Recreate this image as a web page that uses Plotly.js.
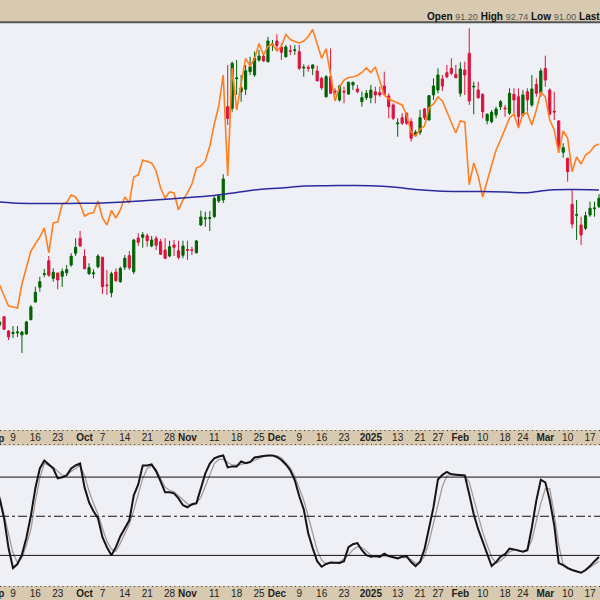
<!DOCTYPE html>
<html><head><meta charset="utf-8">
<script src="https://cdn.plot.ly/plotly-3.0.1.min.js"></script>
<style>html,body{margin:0;padding:0;background:#d8cab0}#chart{width:600px;height:600px}</style>
</head><body><div id="chart"></div>
<script>
// trading-day index: 0 = 9 Sep 2024; first visible candle is index -3
const firstDay = -3;
const open = [76.38,77.41,75.63,75.31,75.38,75.13,75.25,77.06,79.25,81.09,82.69,84.41,82.21,82.88,82.46,82.91,83.88,85.34,87.21,84.96,82.79,82.78,83.66,84.84,81.38,80.41,83.0,81.79,83.59,85.04,83.04,87.25,87.34,87.54,86.25,87.21,86.79,85.75,85.0,86.38,85.66,85.09,85.81,85.78,85.41,
88.88,89.66,89.69,89.94,91.88,92.0,
103.66,103.46,107.15,105.54,105.84,108.04,107.63,109.5,110.0,109.29,111.38,111.88,111.13,109.91,110.66,110.69,110.54,108.5,108.59,108.46,108.13,107.21,104.91,107.41,105.59,104.5,105.59,105.25,106.38,105.88,104.29,104.79,104.79,105.54,105.41,106.25,105.0,103.88,101.54,102.29,102.84,101.79,100.04,100.46,103.38,102.0,105.13,105.75,107.13,107.91,108.46,107.71,105.34,108.25,110.34,106.13,105.75,105.21,101.91,101.79,102.63,103.66,103.5,102.84,105.21,104.91,102.63,105.54,103.88,106.46,105.34,108.46,105.75,103.09,101.88,97.96,97.21,91.46,90.09,88.88,88.46,90.13,90.91,91.20];
const high = [77.13,77.5,75.75,76.25,76.25,75.63,76.88,78.88,81.16,82.41,83.38,85.0,83.46,82.88,83.44,83.88,85.34,87.21,88.13,85.84,84.09,83.34,85.21,84.88,83.25,83.04,83.46,83.66,85.13,85.63,87.13,87.84,88.0,87.84,87.5,87.5,87.13,87.21,86.91,87.0,86.91,86.91,86.91,86.16,87.0,
90.66,90.54,90.63,92.44,92.75,95.21,
108.88,109.29,109.5,107.63,108.88,109.91,110.54,110.75,110.34,112.41,112.0,112.71,111.59,111.38,111.38,111.38,111.38,108.96,108.88,108.96,108.79,107.41,107.63,110.96,105.96,106.38,106.16,106.79,106.79,106.38,105.54,105.75,106.38,106.16,106.16,108.04,105.34,104.09,102.21,102.84,102.96,102.21,100.75,103.25,103.5,105.13,107.21,108.46,107.63,108.88,109.71,108.88,109.21,109.29,113.46,106.79,106.79,105.34,102.84,103.25,103.66,104.5,103.88,105.96,105.96,105.96,105.75,105.96,107.63,107.21,108.46,110.04,105.96,105.54,102.0,99.09,97.29,93.25,92.0,89.91,90.54,91.79,91.79,92.74];
const low = [76.13,75.75,74.5,74.75,74.88,72.88,75.13,76.94,79.16,80.54,82.34,82.41,81.79,80.84,81.13,82.5,83.66,85.0,86.16,83.34,82.63,82.21,83.46,80.25,80.13,79.84,81.79,81.66,83.25,83.25,82.75,86.25,86.04,86.16,86.09,85.75,85.13,84.63,84.84,85.0,84.59,84.71,84.5,85.13,85.31,
88.75,88.66,88.13,89.75,91.63,91.63,
101.38,103.04,105.13,104.29,105.13,107.63,107.41,109.29,109.29,109.19,110.63,110.75,109.5,109.79,110.13,110.13,108.25,107.41,108.04,107.63,106.88,105.75,104.79,105.25,105.13,104.29,104.09,105.13,105.75,105.34,103.66,104.5,104.09,104.09,104.91,105.13,102.21,102.0,99.91,101.38,101.38,99.29,99.91,100.13,102.0,101.94,104.5,105.34,105.63,107.21,107.63,107.21,104.91,105.13,103.88,102.71,104.63,102.21,101.46,101.59,102.21,103.25,102.41,102.63,102.84,101.38,102.41,103.04,103.66,104.91,104.91,106.16,102.63,102.0,98.25,97.29,94.29,88.46,87.0,86.38,88.25,89.91,89.91,91.00];
const close = [76.75,75.84,74.88,75.44,75.5,75.5,76.75,78.63,80.46,81.79,82.78,82.59,82.96,82.0,83.06,83.29,84.96,86.09,86.25,83.41,83.54,82.88,85.0,81.16,81.29,82.79,81.91,83.46,84.71,83.54,87.0,86.71,87.66,86.91,87.0,86.34,85.21,84.71,86.16,86.09,84.84,86.25,85.71,85.69,86.88,
89.88,89.75,89.78,92.21,92.5,94.63,
102.21,109.09,107.25,106.04,108.16,108.66,109.71,110.0,109.38,111.88,111.5,111.29,110.46,111.13,110.59,110.78,108.46,108.59,108.46,108.88,106.88,106.04,107.41,105.34,105.5,106.25,105.5,106.71,106.71,105.54,104.79,105.34,105.75,105.13,105.13,105.21,103.66,102.21,101.63,101.59,101.59,99.71,100.46,102.29,102.29,105.04,106.25,107.63,106.25,107.41,107.84,107.29,108.38,107.63,104.38,106.21,104.79,103.04,102.71,102.96,103.38,104.29,103.41,105.34,104.5,102.41,105.13,104.5,105.88,105.34,108.13,107.0,102.71,103.0,98.46,98.54,95.54,89.0,90.16,87.63,90.04,90.96,91.0,92.21];
// overlay comparison line (orange)
const compare = [81.38,80.13,78.75,78.63,78.5,81.5,83.75,85.63,86.5,87.38,88.5,85.38,89.13,89.25,91.5,91.69,92.63,92.38,91.5,90.0,90.31,90.44,91.88,89.75,88.88,90.69,89.75,90.75,92.38,91.63,94.88,95.13,97.0,96.81,96.63,95.63,93.5,92.25,93.0,92.88,90.75,92.0,92.88,94.0,96.0,
96.25,96.88,98.75,101.5,103.75,107.63,95.0,108.5,103.25,106.63,109.69,108.75,109.63,111.56,110.13,111.19,111.5,110.63,111.25,112.69,112.06,111.81,111.63,111.88,112.41,113.31,111.38,109.71,110.88,107.75,104.38,106.13,107.0,107.31,107.38,107.56,107.94,108.5,107.94,108.63,107.0,105.13,104.63,104.38,104.13,103.88,102.63,100.5,100.0,100.88,101.25,103.5,104.0,104.88,104.38,103.0,101.75,100.38,101.88,101.75,93.88,96.63,95.0,92.38,94.38,96.38,98.25,99.5,101.0,102.25,102.75,101.0,102.75,102.88,101.38,103.25,105.5,104.88,102.0,100.75,97.88,100.63,99.75,95.54,97.38,96.5,97.63,98.0,98.75,99.0];
// moving average (blue), read at selected days
const maDay = [-3,0,5,10,15,20,25,30,35,40,45,50,55,60,65,70,75,80,85,90,95,100,105,110,115,120,125,131];
const maVal = [91.75,91.63,91.56,91.56,91.59,91.63,91.75,91.94,92.13,92.34,92.56,92.94,93.31,93.5,93.75,93.79,93.81,93.79,93.63,93.31,93.13,93.06,93.06,93.0,92.91,93.25,93.31,93.25];
// slow stochastic
const stochK = [63.7,48.5,25.6,10.3,13.4,20.6,33.6,50.4,71.4,86.6,92.7,89.7,86.6,79.0,79.8,81.3,86.6,88.9,90.4,72.1,60.7,53.8,48.5,34.0,26.3,20.2,26.3,34.7,40.8,46.9,66.0,74.4,88.9,88.9,89.7,84.4,76.7,68.3,68.3,67.5,63.7,58.4,56.9,59.2,59.9,
72.1,82.8,90.4,94.3,95.8,96.6,87.4,88.2,88.2,92.0,90.7,91.5,95.0,95.8,96.2,96.6,96.6,95.4,93.1,89.7,85.1,77.5,65.3,55.3,37.0,25.6,15.6,11.3,13.4,14.5,14.5,14.1,15.6,26.3,28.6,29.4,24.0,20.2,18.9,19.5,18.9,21.4,19.5,18.5,17.7,18.9,19.5,14.9,11.8,15.1,24.8,40.8,56.9,78.2,81.7,84.0,82.1,81.8,81.8,81.3,66.8,51.5,40.1,30.2,20.2,11.8,14.9,19.1,21.0,25.2,24.6,23.5,22.9,24.0,41.6,62.2,78.0,76.0,62.2,43.1,14.1,12.6,10.3,8.8,7.6,6.7,8.8,11.8,15.6,18.7];
const stochD = [66.0,51.5,35.4,21.8,14.5,18.0,27.9,40.0,61.5,79.4,90.4,88.9,87.4,84.4,81.3,81.3,84.4,86.6,88.9,81.3,69.1,59.9,51.5,40.8,30.9,24.8,23.3,29.4,37.0,43.9,54.6,67.5,79.0,86.6,88.6,85.9,79.0,72.1,69.9,68.7,65.7,62.2,59.5,58.4,59.9,
64.5,72.9,82.1,90.4,93.5,93.5,91.2,89.3,88.9,89.7,90.4,91.5,92.7,94.3,95.8,96.6,96.6,96.2,94.7,91.2,87.0,80.5,71.4,62.2,50.0,36.3,24.0,16.4,13.4,14.4,14.4,15.1,17.2,20.2,24.4,26.7,26.0,23.3,20.2,18.9,19.5,19.5,19.1,18.7,18.5,18.5,18.1,16.8,13.9,14.4,19.5,30.2,43.9,59.9,72.9,80.9,82.4,82.1,81.8,81.3,76.0,63.7,51.5,37.8,27.9,18.7,14.1,16.0,18.9,22.5,24.4,23.7,22.9,24.8,31.7,46.2,59.9,71.1,71.1,51.5,27.9,13.0,10.7,8.8,7.3,6.7,8.4,10.8,13.4,15.6];
// date axis ticks
const tickDay = [0,5,10,16,20,25,30,35,39,45,50,55,59,64,69,74,80,86,91,95,100,105,110,114,119,124,129];
const tickText = ['9','16','23','<b>Oct</b>','7','14','21','28','<b>Nov</b>','11','18','25','<b>Dec</b>','9','16','23','<b>2025</b>','13','21','27','<b>Feb</b>','10','18','24','<b>Mar</b>','10','17'];
const levels = [80, 50, 20];

const days = open.map((_, k) => firstDay + k);
const TAN = '#d8cab0', BG = '#eff0f6';
const font = {family: 'Liberation Sans, Arial, sans-serif', size: 10, color: '#222'};

const traces = [
  {type:'scatter', mode:'lines', x: days, y: compare, xaxis:'x', yaxis:'y',
   line:{color:'#ff7f1e', width:1.6}, hoverinfo:'skip'},
  {type:'scatter', mode:'lines', x: maDay, y: maVal, xaxis:'x', yaxis:'y',
   line:{color:'#2a2a9c', width:1.5, shape:'spline'}, hoverinfo:'skip'},
  {type:'candlestick', x: days, open, high, low, close, xaxis:'x', yaxis:'y',
   increasing:{line:{color:'#006400', width:1}, fillcolor:'#006400'},
   decreasing:{line:{color:'#dc143c', width:1}, fillcolor:'#dc143c'},
   whiskerwidth:0, hoverinfo:'skip'},
  {type:'scatter', mode:'lines', x: days, y: stochD, xaxis:'x2', yaxis:'y2',
   line:{color:'#a89898', width:1.3}, hoverinfo:'skip'},
  {type:'scatter', mode:'lines', x: days, y: stochK, xaxis:'x2', yaxis:'y2',
   line:{color:'#151515', width:2}, hoverinfo:'skip'}
];

const xr = [-2.906, 131.23];
const xcommon = {range: xr, tickmode:'array', tickvals: tickDay, ticktext: tickText,
  ticks:'', showgrid:false, zeroline:false, showline:false, tickfont: font,
  rangeslider:{visible:false}, fixedrange:true};
const py = px => 1 - px/600;

const shapes = levels.map(v => ({type:'line', xref:'paper', x0:0, x1:1, yref:'y2', y0:v, y1:v,
  line:{color:'#111', width:1, dash: v === 50 ? 'dashdot' : 'solid'}}));
shapes.push({type:'line', xref:'paper', x0:0, x1:1, yref:'paper', y0:py(22.2), y1:py(22.2), line:{color:'#555', width:2}});
[430.5, 444.5, 586.5].forEach(p => shapes.push({type:'line', xref:'paper', x0:0, x1:1, yref:'paper',
  y0:py(p), y1:py(p), line:{color:'#333', width:1, dash:'1px,3.47px'}}));

const v = s => `<span style="font-size:9px;color:#555">${s}</span>`;
const annotations = [
  {xref:'paper', yref:'paper', x:425/600, y:py(17), xanchor:'left', yanchor:'middle', showarrow:false,
   font:{family:'Liberation Sans, Arial, sans-serif', size:10, color:'#111'},
   text:`<b>Open</b> ${v('91.20')} <b>High</b> ${v('92.74')} <b>Low</b> ${v('91.00')} <b>Last</b> ${v('92.21')}`},
  {xref:'paper', yref:'paper', x:-4.9/600, y:py(438), xanchor:'center', yanchor:'middle', showarrow:false, font, text:'<b>Sep</b>'},
  {xref:'paper', yref:'paper', x:-4.9/600, y:py(593), xanchor:'center', yanchor:'middle', showarrow:false, font, text:'<b>Sep</b>'}
];

const layout = {
  width:600, height:600, margin:{l:0, r:0, t:0, b:0},
  paper_bgcolor: TAN, plot_bgcolor: BG, showlegend:false,
  xaxis: Object.assign({anchor:'y', domain:[0,1]}, xcommon),
  yaxis: {domain:[py(430), py(23)], range:[63.25, 114.125], visible:false, fixedrange:true},
  xaxis2: Object.assign({anchor:'y2', domain:[0,1]}, xcommon),
  yaxis2: {domain:[py(586), py(445.5)], range:[-3.44, 104.2], visible:false, fixedrange:true},
  shapes, annotations
};
Plotly.newPlot('chart', traces, layout, {displayModeBar:false, staticPlot:true});
</script></body></html>
